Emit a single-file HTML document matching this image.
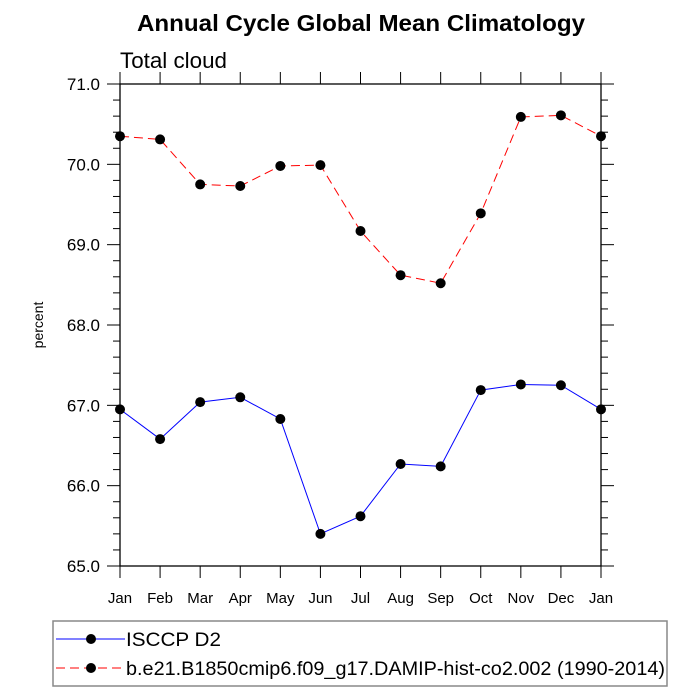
<!DOCTYPE html>
<html><head><meta charset="utf-8"><style>
body{margin:0;background:#fff;}
svg{display:block;font-family:"Liberation Sans",sans-serif;}
</style></head><body>
<svg id="chart" width="700" height="700">
<text x="361" y="31" text-anchor="middle" font-size="23" font-weight="bold" textLength="448" lengthAdjust="spacingAndGlyphs">Annual Cycle Global Mean Climatology</text>
<text x="120" y="68" font-size="22" textLength="107" lengthAdjust="spacingAndGlyphs">Total cloud</text>
<text transform="translate(43,325) rotate(-90)" text-anchor="middle" font-size="14">percent</text>
<g id="axes"></g>
<g id="series"></g>
<rect x="53" y="621" width="614" height="65" fill="none" stroke="#888" stroke-width="1.5"/>
<g>
<line x1="56" y1="639" x2="125" y2="639" stroke="#00f" stroke-width="1"/>
<circle cx="91" cy="639" r="5" fill="#000"/>
<text x="126" y="646" font-size="19" textLength="95" lengthAdjust="spacingAndGlyphs">ISCCP D2</text>
</g>
<g>
<line x1="56" y1="668" x2="125" y2="668" stroke="#f00" stroke-width="1" stroke-dasharray="9,5"/>
<circle cx="91" cy="668" r="5" fill="#000"/>
<text x="126" y="675" font-size="19" textLength="539" lengthAdjust="spacingAndGlyphs">b.e21.B1850cmip6.f09_g17.DAMIP-hist-co2.002 (1990-2014)</text>
</g>
</svg>
<script>
const months=["Jan","Feb","Mar","Apr","May","Jun","Jul","Aug","Sep","Oct","Nov","Dec","Jan"];
const isccp=[66.95,66.58,67.04,67.10,66.83,65.40,65.62,66.27,66.24,67.19,67.26,67.25,66.95];
const model=[70.35,70.31,69.75,69.73,69.98,69.99,69.17,68.62,68.52,69.39,70.59,70.61,70.35];
const yTicks=[65,66,67,68,69,70,71];
const NS="http://www.w3.org/2000/svg";
const X0=120,X1=601,Y0=566,Y1=84,ymin=65,ymax=71;
const xs=i=>X0+(X1-X0)*i/(months.length-1);
const ys=v=>Y0-(v-ymin)/(ymax-ymin)*(Y0-Y1);
function mk(t,a,p){const e=document.createElementNS(NS,t);for(const k in a)e.setAttribute(k,a[k]);p.appendChild(e);return e;}
const ax=document.getElementById('axes');
const fr=mk('rect',{x:X0,y:Y1,width:X1-X0,height:Y0-Y1,fill:'none',stroke:'#000','stroke-width':1.3},ax);


months.forEach((m,i)=>{
  const x=xs(i);
  mk('line',{x1:x,y1:Y0,x2:x,y2:Y0+12,stroke:'#000'},ax);
  mk('line',{x1:x,y1:Y1,x2:x,y2:Y1-12,stroke:'#000'},ax);
  const t=mk('text',{x:x,y:Y0+37,'text-anchor':'middle','font-size':15},ax);
  t.textContent=m;
  
  
});
for(let v=ymin;v<=ymax+1e-6;v+=0.2){
  const y=ys(v);const major=Math.abs(v-Math.round(v))<1e-6;const L=major?13:7;
  mk('line',{x1:X0-L,y1:y,x2:X0,y2:y,stroke:'#000'},ax);
  mk('line',{x1:X1,y1:y,x2:X1+L,y2:y,stroke:'#000'},ax);
}
yTicks.forEach(v=>{
  const t=mk('text',{x:X0-20,y:ys(v)+6,'text-anchor':'end','font-size':17},ax);
  t.textContent=v.toFixed(1);
  
  
});
const sg=document.getElementById('series');
function draw(data,color,dash,name){
  const p=mk('polyline',{points:data.map((v,i)=>xs(i)+','+ys(v)).join(' '),fill:'none',stroke:color,'stroke-width':1,'stroke-dasharray':dash},sg);
  
  
  data.forEach((v,i)=>{
    const c=mk('circle',{cx:xs(i),cy:ys(v),r:5,fill:'#000'},sg);
    
    
  });
}
draw(model,'#f00','9,5','model');
draw(isccp,'#00f','none','isccp');
</script>
</body></html>
